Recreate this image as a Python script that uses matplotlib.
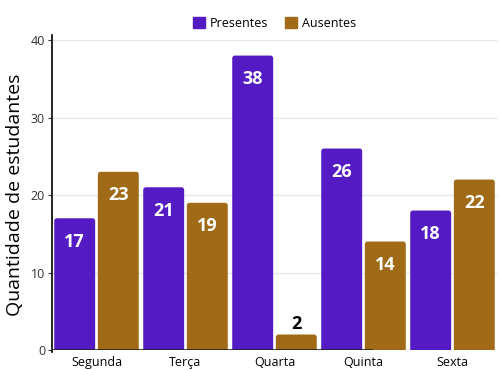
import numpy as np
import matplotlib.pyplot as plt
from matplotlib.patches import FancyBboxPatch, Patch

dias = ['Segunda', 'Terça', 'Quarta', 'Quinta', 'Sexta']
presentes = [17, 21, 38, 26, 18]
ausentes = [23, 19, 2, 14, 22]

cor_pres = '#541ac4'
cor_aus = '#a06a17'

plt.rcParams['font.family'] = ['Open Sans', 'DejaVu Sans']

fig = plt.figure(figsize=(5, 3.71), dpi=100)
ax = fig.add_axes([0.104, 0.0566, 0.89, 0.8354])
ax.set_xlim(-0.5, 4.5)
ax.set_ylim(0, 40)

x = np.arange(len(dias))
w = 0.46
b1 = ax.bar(x - 0.245, presentes, w, color=cor_pres, zorder=2)
b2 = ax.bar(x + 0.245, ausentes, w, color=cor_aus, zorder=2)

# cantos arredondados: troca cada retângulo por um FancyBboxPatch
for barras in (b1, b2):
    for b in barras:
        b.set_visible(False)
        p = FancyBboxPatch((b.get_x(), -0.5), b.get_width(), b.get_height() + 0.5,
                           boxstyle='round,pad=0,rounding_size=0.03',
                           mutation_aspect=11.5, facecolor=b.get_facecolor(),
                           edgecolor='none', zorder=2)
        ax.add_patch(p)

# rótulos dos valores
for barras in (b1, b2):
    for b in barras:
        v = b.get_height()
        cx = b.get_x() + b.get_width() / 2
        if v >= 5:
            ax.text(cx, v - 3.0, str(int(v)), ha='center', va='center',
                    color='white', fontsize=13, fontweight='bold', zorder=3)
        else:
            ax.text(cx, v + 0.2, str(int(v)), ha='center', va='bottom',
                    color='black', fontsize=13, fontweight='bold', zorder=3)

ax.set_yticks([0, 10, 20, 30, 40])
ax.set_xticks(x)
ax.set_xticklabels(dias)
ax.tick_params(axis='x', length=0, labelsize=9, pad=4)
ax.tick_params(axis='y', length=3, labelsize=9, colors='#333333', pad=2)
ax.yaxis.grid(True, color='#e6e6e6', linewidth=1, zorder=0)

for s in ('top', 'right', 'bottom'):
    ax.spines[s].set_visible(False)
ax.spines['left'].set_color('black')
ax.spines['left'].set_linewidth(1.2)
ax.spines['left'].set_bounds(-0.3, 40.6)
ax.axhline(0, xmin=0, xmax=0.72, color='#222222', linewidth=1.2, zorder=4)

ax.set_ylabel('Quantidade de estudantes', fontsize=14)
ax.yaxis.set_label_coords(-0.063, 0.5)

handles = [Patch(color=cor_pres, label='Presentes'),
           Patch(color=cor_aus, label='Ausentes')]
fig.legend(handles=handles, loc='center', bbox_to_anchor=(0.549, 0.937), ncol=2,
           frameon=False, fontsize=9, handlelength=1.0, handleheight=1.0,
           handletextpad=0.4, columnspacing=1.3)

fig.savefig('out.png', dpi=100)
